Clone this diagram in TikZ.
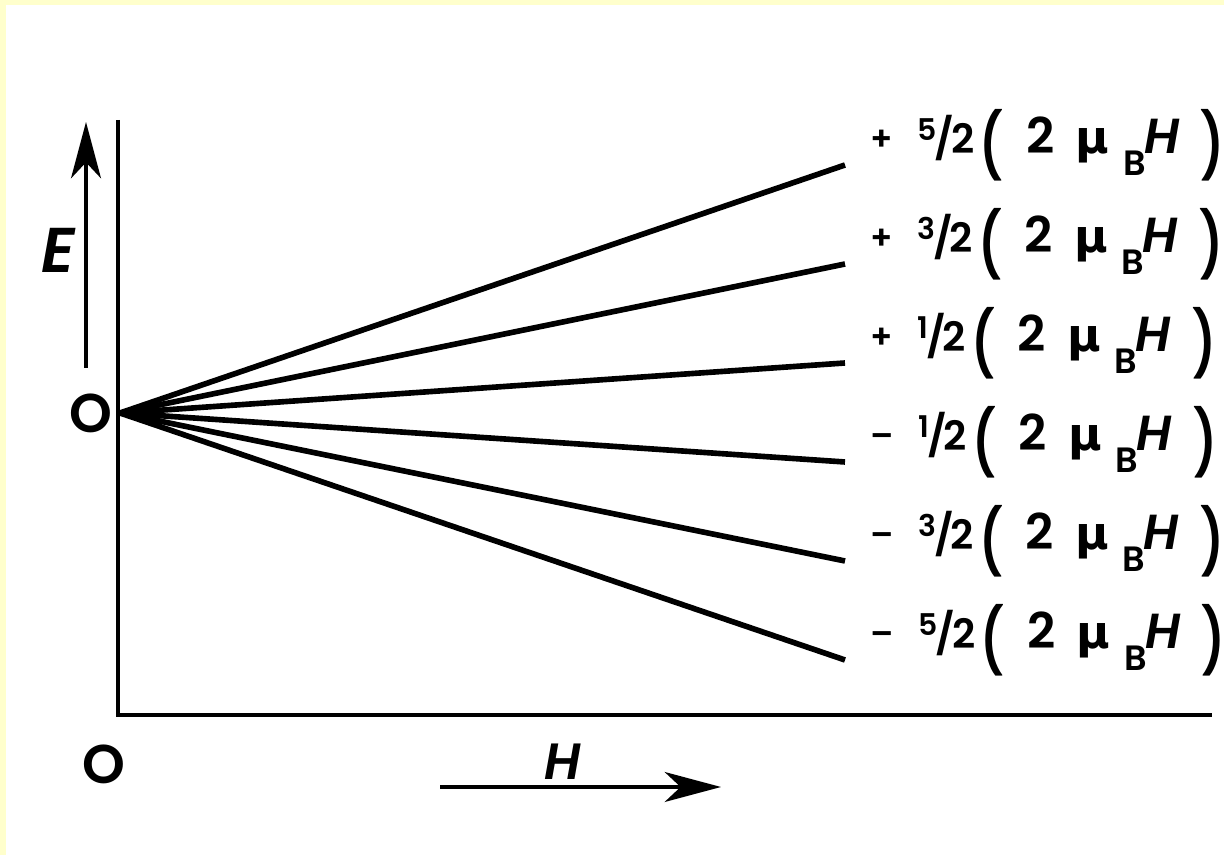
\documentclass[tikz,border=0pt]{standalone}
\usepackage{graphicx}
\usepackage{fontspec}
\setmainfont{Poppins}[BoldFont={* SemiBold}, BoldItalicFont={* SemiBold Italic}]
\newfontfamily\greekfont{DejaVu Sans}
\usetikzlibrary{arrows.meta}
\definecolor{paper}{HTML}{FFFFCC}

% one Zeeman level label: sign, numerator
\newcommand{\zlevel}[2]{%
  \raisebox{2pt}{\fontsize{19}{19}\selectfont #1}\hspace{14pt}%
  \raisebox{7.4pt}{\fontsize{17}{17}\selectfont #2}\kern-1pt{\fontsize{23}{23}\selectfont/\kern-2pt2}\kern3pt%
  \raisebox{-8.5pt}{\scalebox{1}[1.3]{(}}\hspace{13pt}%
  2\hspace{12pt}{\greekfont\fontsize{26}{26}\selectfont μ}\hspace{8pt}%
  \raisebox{-12pt}{\fontsize{20}{20}\selectfont B}\kern-1pt\textit{H}\hspace{12pt}%
  \raisebox{-8.5pt}{\scalebox{1}[1.3]{)}}}

\begin{document}
\begin{tikzpicture}[
    axis/.style={line width=2.6pt},
    level/.style={line width=3.2pt},
    dirarrow/.style={-{Stealth[length=32pt, width=17pt, inset=9pt]}, line width=2.3pt},
    lbl/.style={inner sep=0pt, font=\bfseries\fontsize{28}{32}\selectfont},
    axlbl/.style={inner sep=0pt, font=\bfseries\fontsize{31}{34}\selectfont}
  ]

    % background
    \fill[paper] (0,0) rectangle (24.48,17.10);
    \fill[white] (0.12,0) rectangle (24.48,17.00);
    \useasboundingbox (0,0) rectangle (24.48,17.10);

    % axes
    \coordinate (top) at (2.36,14.70);
    \coordinate (corner) at (2.36,2.80);
    \coordinate (right) at (24.24,2.80);
    \coordinate (o) at (2.40,8.84);
    \draw[axis] (top) -- (corner) -- (right);

    \node[axlbl] (zeroE) at (1.82,8.84) {O};
    \node[axlbl] (zeroH) at (2.08,1.82) {O};

    % E direction
    \coordinate (etail) at (1.72,9.74);
    \coordinate (ehead) at (1.72,14.66);
    \draw[dirarrow] (etail) -- (ehead);
    \node[axlbl, font=\bfseries\fontsize{36}{40}\selectfont] (elbl) at (1.18,12.10) {\textit{E}};

    % H direction
    \coordinate (htail) at (8.80,1.36);
    \coordinate (hhead) at (14.42,1.36);
    \draw[dirarrow] (htail) -- (hhead);
    \node[axlbl, font=\bfseries\fontsize{29}{32}\selectfont] (hlbl) at (11.26,1.86) {\textit{H}};

    % the six levels
    \foreach \s/\n/\y [count=\i] in {+/5/13.80, +/3/11.82, +/1/9.84, --/1/7.86, --/3/5.88, --/5/3.90} {
      \coordinate (e\i) at (16.90,\y);
      \node[lbl, anchor=base west] (m\i) at (17.40,\y+0.22) {\zlevel{\s}{\n}};
      \draw[level] (o) -- (e\i);
    }

  \end{tikzpicture}
\end{document}
